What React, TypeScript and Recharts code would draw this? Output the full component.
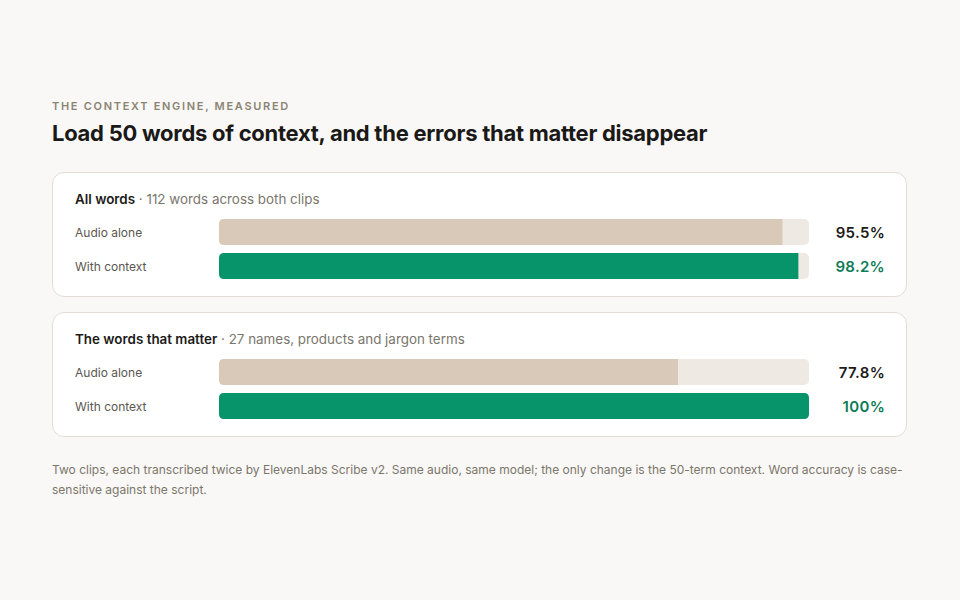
import React from "react";
import { BarChart, Bar, XAxis, YAxis, LabelList, Cell } from "recharts";

const rowLabels = ["Audio alone", "With context"];
const groupTitles = ["All words", "The words that matter"];
const groupSubtitles = ["112 words across both clips", "27 names, products and jargon terms"];
const allWordsValues = [95.5, 98.2];
const mattersValues = [77.8, 100];
const valueLabels = [["95.5%", "98.2%"], ["77.8%", "100%"]];

const FONT = "Inter, 'Noto Sans', sans-serif";
const TAN = "#d9c9b8";
const TRACK = "#eeeae3";
const GREEN = "#07946a";
const GREEN_TEXT = "#0d7c57";

const BarShape = (props: any) => {
  const { x, y, width, height, fill, value } = props;
  const v = Array.isArray(value) ? value[1] : value;
  const r = 5;
  const full = v >= 100;
  if (width <= 0) return null;
  const rr = full ? r : 0;
  const d = `M${x + r},${y} L${x + width - rr},${y} ${rr ? `Q${x + width},${y} ${x + width},${y + rr}` : ""} L${x + width},${y + height - rr} ${rr ? `Q${x + width},${y + height} ${x + width - rr},${y + height}` : ""} L${x + r},${y + height} Q${x},${y + height} ${x},${y + height - r} L${x},${y + r} Q${x},${y} ${x + r},${y} Z`;
  return <path d={d} fill={fill} />;
};

const Tick = (props: any) => {
  const { y, payload } = props;
  return (
    <text x={22} y={y} dominantBaseline="central" fontSize={12} fill="#5b5750" fontFamily={FONT}>
      {payload.value}
    </text>
  );
};

function Card({ idx, values, top }: { idx: number; values: number[]; top: number }) {
  const data = rowLabels.map((label, i) => ({
    label,
    value: values[i],
    text: valueLabels[idx][i],
    color: i === 0 ? TAN : GREEN,
    textColor: i === 0 ? "#1c1b19" : GREEN_TEXT,
  }));
  const ValueLabel = (p: any) => {
    const { y, height, index } = p;
    const d = data[index];
    return (
      <text x={832} y={y + height / 2} textAnchor="end" dominantBaseline="central" fontSize={15} fontWeight={600} fill={d.textColor} fontFamily={FONT} letterSpacing={0.3}>
        {d.text}
      </text>
    );
  };
  return (
    <div
      style={{
        position: "absolute",
        left: 52,
        top,
        width: 853,
        height: 123,
        background: "#ffffff",
        border: "1px solid #e2ded6",
        borderRadius: 12,
      }}
    >
      <div style={{ position: "absolute", left: 22, top: 16, fontSize: 13.4, lineHeight: "20px", fontFamily: FONT, whiteSpace: "nowrap" }}>
        <span style={{ fontWeight: 600, color: "#1c1b19" }}>{groupTitles[idx]}</span>
        <span style={{ color: "#7a766d" }}> · {groupSubtitles[idx]}</span>
      </div>
      <div style={{ position: "absolute", left: 0, top: 42 }}>
        <BarChart layout="vertical" width={853} height={68} data={data} margin={{ top: 0, right: 97, left: 0, bottom: 0 }} barSize={26}>
          <XAxis type="number" domain={[0, 100]} hide />
          <YAxis type="category" dataKey="label" width={166} axisLine={false} tickLine={false} tick={<Tick />} />
          <Bar dataKey="value" isAnimationActive={false} background={{ fill: TRACK, radius: 5 } as any} shape={<BarShape />}>
            {data.map((d, i) => (
              <Cell key={i} fill={d.color} />
            ))}
            <LabelList dataKey="value" content={<ValueLabel />} />
          </Bar>
        </BarChart>
      </div>
    </div>
  );
}

export default function App() {
  return (
    <div style={{ position: "absolute", left: 0, top: 0, width: 960, height: 600, background: "#f9f8f6", fontFamily: FONT }}>
      <div style={{ position: "absolute", left: 52, top: 99, fontSize: 11, fontWeight: 600, letterSpacing: 1.7, color: "#8a8472", lineHeight: "14px", whiteSpace: "nowrap" }}>
        THE CONTEXT ENGINE, MEASURED
      </div>
      <div style={{ position: "absolute", left: 52, top: 118, fontSize: 22, fontWeight: 700, letterSpacing: -0.27, color: "#1a1918", lineHeight: "30px", whiteSpace: "nowrap" }}>
        Load 50 words of context, and the errors that matter disappear
      </div>
      <Card idx={0} values={allWordsValues} top={172} />
      <Card idx={1} values={mattersValues} top={312} />
      <div style={{ position: "absolute", left: 52, top: 460, width: 856, fontSize: 12, lineHeight: "20px", color: "#7b766b" }}>
        Two clips, each transcribed twice by ElevenLabs Scribe v2. Same audio, same model; the only change is the 50-term context. Word accuracy is case-sensitive against the script.
      </div>
    </div>
  );
}
